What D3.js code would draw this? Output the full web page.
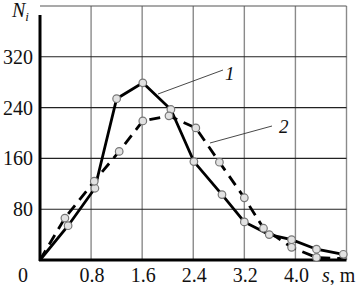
<!DOCTYPE html>
<html>
<head>
<meta charset="utf-8">
<script src="https://cdn.jsdelivr.net/npm/d3@7"></script>
<style>
  body { margin: 0; background: #fff; }
</style>
</head>
<body>
<script>
// chart size
const w = 362;
const h = 285;
const serif = "'Liberation Serif', 'Times New Roman', Times, 'DejaVu Serif', serif";

// curve 1 (solid) and curve 2 (dashed)
const s1 = [0, 0.44, 0.86, 1.2, 1.61, 2.05, 2.41, 2.85, 3.2, 3.59, 3.94, 4.33, 4.75];
const n1 = [0, 54, 113, 254, 279, 237, 155, 103, 60, 40, 32, 17, 9];
const s2 = [0, 0.39, 0.85, 1.24, 1.61, 2.02, 2.44, 2.81, 3.2, 3.5, 3.94, 4.33, 4.75];
const n2 = [0, 66, 124, 171, 219, 227, 208, 154, 98, 50, 20, 4, 2];

// ticks
const xTicks = [0.8, 1.6, 2.4, 3.2, 4.0, 4.8];
const xTickLabels = ["0.8", "1.6", "2.4", "3.2", "4.0"];
const yTicks = [80, 160, 240, 320, 400];
const yTickLabels = ["80", "160", "240", "320"];

const x = d3.scaleLinear().domain([0, 4.8]).range([40, 346.5]);
const y = d3.scaleLinear().domain([0, 400]).range([260, 6]);

const svg = d3.select("body").append("svg")
  .attr("width", w)
  .attr("height", h)
  .attr("font-family", serif)
  .style("font-family", serif);

// grid: vertical lines grey, horizontal lines dark
svg.append("g").selectAll("line")
  .data(xTicks).enter().append("line")
  .attr("x1", d => x(d)).attr("x2", d => x(d))
  .attr("y1", y(0)).attr("y2", y(400))
  .attr("stroke", "#8a8a8a").attr("stroke-width", 1.4);

svg.append("g").selectAll("line")
  .data(yTicks).enter().append("line")
  .attr("x1", x(0)).attr("x2", x(4.8))
  .attr("y1", d => y(d)).attr("y2", d => y(d))
  .attr("stroke", d => d == 400 ? "#555" : "#222").attr("stroke-width", 1.1);

// axes
svg.append("line")
  .attr("x1", x(0)).attr("x2", x(0))
  .attr("y1", y(0) + 1).attr("y2", y(400) + 9)
  .attr("stroke", "#000").attr("stroke-width", 3);
svg.append("line")
  .attr("x1", x(0) - 1).attr("x2", x(4.8))
  .attr("y1", y(0)).attr("y2", y(0))
  .attr("stroke", "#000").attr("stroke-width", 3);

// tick labels
svg.append("g").selectAll("text")
  .data(yTickLabels).enter().append("text")
  .attr("x", 33)
  .attr("y", d => y(+d) + 7)
  .attr("text-anchor", "end")
  .attr("font-size", 20)
  .attr("fill", "#111")
  .text(d => d);

svg.append("g").selectAll("text")
  .data(xTickLabels).enter().append("text")
  .attr("x", d => x(+d) + 1)
  .attr("y", 282)
  .attr("text-anchor", "middle")
  .attr("font-size", 20)
  .attr("fill", "#111")
  .text(d => d);

svg.append("text")
  .attr("x", 23).attr("y", 282)
  .attr("text-anchor", "middle")
  .attr("font-size", 20)
  .attr("fill", "#111")
  .text("0");

// axis titles
const sLab = svg.append("text")
  .attr("x", 322).attr("y", 282)
  .attr("font-size", 20)
  .attr("fill", "#111");
sLab.append("tspan").attr("font-style", "italic").text("s");
sLab.append("tspan").text(", m");

const nLab = svg.append("text")
  .attr("x", 12).attr("y", 17)
  .attr("font-size", 20)
  .attr("fill", "#111");
nLab.append("tspan").attr("font-style", "italic").text("N");
nLab.append("tspan").attr("font-style", "italic").attr("font-size", 13).attr("dy", 4).text("i");

// curves
const line = d3.line()
  .x(d => x(d[0]))
  .y(d => y(d[1]));

const pts1 = d3.zip(s1, n1);
const pts2 = d3.zip(s2, n2);

svg.append("path")
  .attr("d", line(pts2))
  .attr("fill", "none")
  .attr("stroke", "#000")
  .attr("stroke-width", 2.8)
  .attr("stroke-dasharray", "11,7");

svg.append("path")
  .attr("d", line(pts1))
  .attr("fill", "none")
  .attr("stroke", "#000")
  .attr("stroke-width", 2.8);

// markers (no marker at the origin, none at the end of curve 2)
svg.append("g").selectAll("circle")
  .data(pts1.slice(1).concat(pts2.slice(1, -1)))
  .enter().append("circle")
  .attr("cx", d => x(d[0]))
  .attr("cy", d => y(d[1]))
  .attr("r", 3.8)
  .attr("fill", "#e2e2e2")
  .attr("stroke", "#777")
  .attr("stroke-width", 1.2);

// leader lines and curve numbers
svg.append("line")
  .attr("x1", 158).attr("y1", 94).attr("x2", 223).attr("y2", 70)
  .attr("stroke", "#333").attr("stroke-width", 0.9);
svg.append("line")
  .attr("x1", 210).attr("y1", 143).attr("x2", 272).attr("y2", 126)
  .attr("stroke", "#333").attr("stroke-width", 0.9);

svg.append("text")
  .attr("x", 225).attr("y", 80)
  .attr("font-size", 19)
  .attr("font-style", "italic")
  .attr("fill", "#111")
  .text("1");
svg.append("text")
  .attr("x", 279).attr("y", 133)
  .attr("font-size", 19)
  .attr("font-style", "italic")
  .attr("fill", "#111")
  .text("2");
</script>
</body>
</html>
